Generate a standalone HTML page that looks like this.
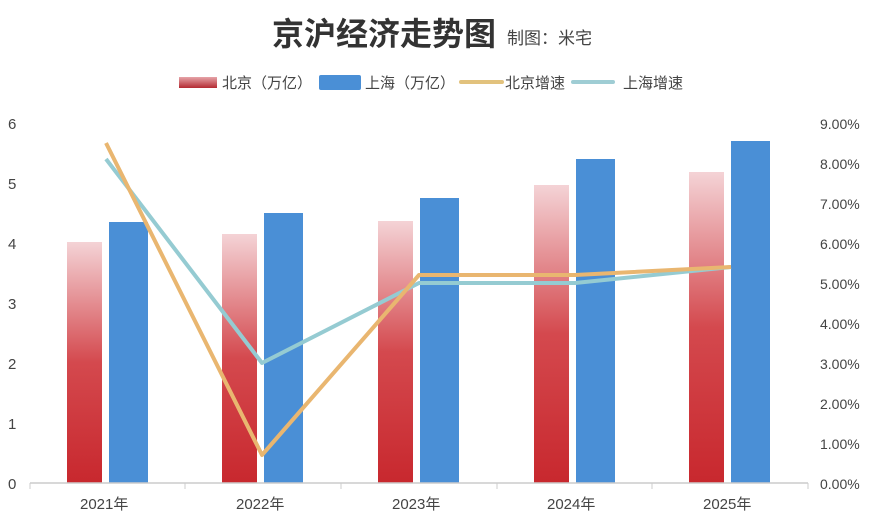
<!DOCTYPE html><html><head><meta charset="utf-8"><style>body{margin:0;background:#fff}svg{display:block}text{font-family:"Liberation Sans","Noto Sans CJK SC",sans-serif;fill:#444}</style></head><body>
<svg width="876" height="525" xmlns="http://www.w3.org/2000/svg">
<defs><linearGradient id="rg" x1="0" y1="0" x2="0" y2="1"><stop offset="0" stop-color="#f4d3d6"/><stop offset="0.5" stop-color="#d4494e"/><stop offset="1" stop-color="#c8282e"/></linearGradient>
<linearGradient id="lg" x1="0" y1="0" x2="0" y2="1"><stop offset="0" stop-color="#e6a3a8"/><stop offset="1" stop-color="#b42a32"/></linearGradient></defs>
<text x="272" y="45" font-size="32" font-weight="bold" style="fill:#333">京沪经济走势图</text>
<text x="507" y="44" font-size="17">制图：米宅</text>
<rect x="179" y="77" width="38" height="11" fill="url(#lg)"/><text x="222" y="88" font-size="15">北京（万亿）</text>
<rect x="319" y="75" width="42" height="15" rx="2" fill="#4a8fd6"/><text x="365" y="88" font-size="15">上海（万亿）</text>
<line x1="461" y1="82" x2="502" y2="82" stroke="#e2c27d" stroke-width="4" stroke-linecap="round"/><text x="505" y="88" font-size="15">北京增速</text>
<line x1="573" y1="82" x2="613" y2="82" stroke="#9fcdd4" stroke-width="4" stroke-linecap="round"/><text x="623" y="88" font-size="15">上海增速</text>
<g font-size="15"><text x="8" y="129">6</text><text x="8" y="189">5</text><text x="8" y="249">4</text><text x="8" y="309">3</text><text x="8" y="369">2</text><text x="8" y="429">1</text><text x="8" y="489">0</text></g>
<g font-size="14"><text x="820" y="129">9.00%</text><text x="820" y="169">8.00%</text><text x="820" y="209">7.00%</text><text x="820" y="249">6.00%</text><text x="820" y="289">5.00%</text><text x="820" y="329">4.00%</text><text x="820" y="369">3.00%</text><text x="820" y="409">2.00%</text><text x="820" y="449">1.00%</text><text x="820" y="489">0.00%</text></g>
<g fill="url(#rg)"><rect x="67" y="242" width="35" height="241"/><rect x="222" y="234" width="35" height="249"/><rect x="378" y="221" width="35" height="262"/><rect x="534" y="185" width="35" height="298"/><rect x="689" y="172" width="35" height="311"/></g>
<g fill="#4a8fd6"><rect x="109" y="222" width="39" height="261"/><rect x="264" y="213" width="39" height="270"/><rect x="420" y="198" width="39" height="285"/><rect x="576" y="159" width="39" height="324"/><rect x="731" y="141" width="39" height="342"/></g>
<line x1="30" y1="483" x2="808" y2="483" stroke="#ccc" stroke-width="1.5"/>
<g stroke="#ccc"><line x1="30" y1="483" x2="30" y2="489"/><line x1="185" y1="483" x2="185" y2="489"/><line x1="341" y1="483" x2="341" y2="489"/><line x1="497" y1="483" x2="497" y2="489"/><line x1="652" y1="483" x2="652" y2="489"/><line x1="808" y1="483" x2="808" y2="489"/></g>
<polyline points="106,159 262,363 419,283 575,283 731,267" fill="none" stroke="#95cbd2" stroke-width="4" stroke-linejoin="round"/>
<polyline points="106,143 262,455 419,275 575,275 731,267" fill="none" stroke="#e9b670" stroke-width="4" stroke-linejoin="round"/>
<g font-size="15"><text x="80" y="509">2021年</text><text x="236" y="509">2022年</text><text x="392" y="509">2023年</text><text x="547" y="509">2024年</text><text x="703" y="509">2025年</text></g>
</svg></body></html>
